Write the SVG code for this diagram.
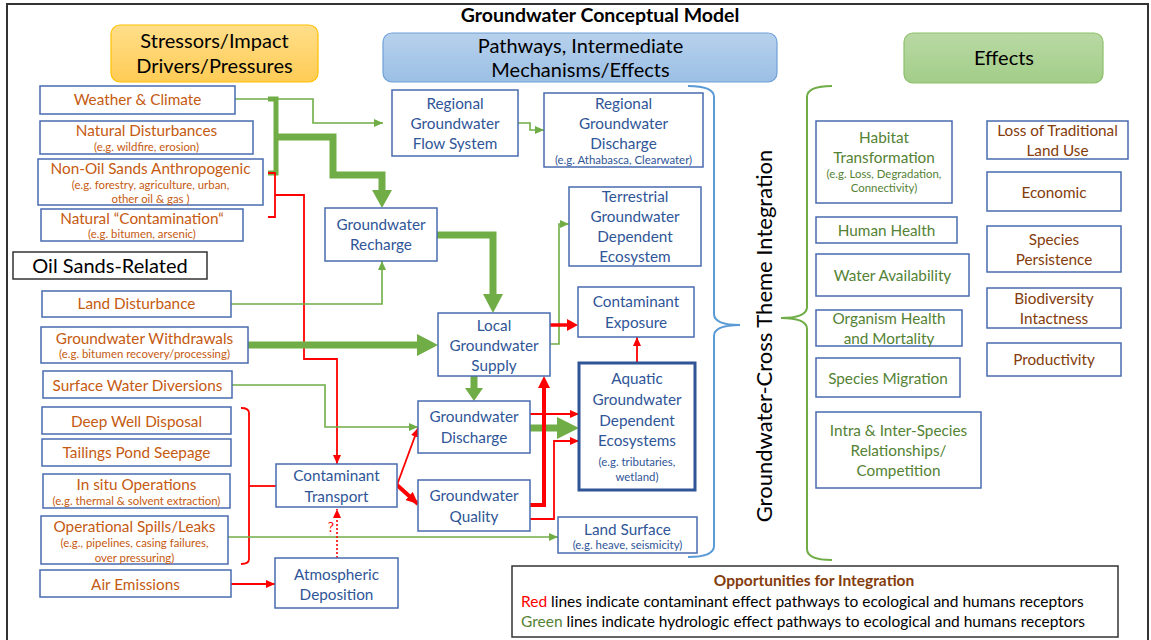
<svg xmlns="http://www.w3.org/2000/svg" width="1151" height="640" viewBox="0 0 1151 640">
<defs>
<style>
text{font-family:Lato,"Liberation Sans",sans-serif;text-anchor:middle}
.box{fill:#fff;stroke:#4A6BB0;stroke-width:1.5}
.st{fill:#C55A11;font-size:15.3px}
.sts{fill:#C55A11;font-size:11.4px}
.pt{fill:#2F5597;font-size:15.3px}
.pts{fill:#2F5597;font-size:11.4px}
.eg{fill:#548235;font-size:15.3px}
.egs{fill:#548235;font-size:11.4px}
.eb{fill:#843C0C;font-size:15.3px}
.hd{fill:#000;font-size:20px}
.g{stroke:#70AD47;fill:none;stroke-width:1.6}
.gT{stroke:#70AD47;fill:none;stroke-width:7}
.gh{fill:#70AD47}
.r{stroke:#FF0000;fill:none;stroke-width:1.8}
.rT{stroke:#FF0000;fill:none;stroke-width:4}
.rh{fill:#FF0000}
.leg{font-size:15.5px;text-anchor:start;fill:#000}
</style>
<linearGradient id="gO" x1="0" y1="0" x2="0" y2="1"><stop offset="0" stop-color="#FFDE8A"/><stop offset="1" stop-color="#FFCC55"/></linearGradient>
<linearGradient id="gB" x1="0" y1="0" x2="0" y2="1"><stop offset="0" stop-color="#B7D1EC"/><stop offset="1" stop-color="#9BBFE5"/></linearGradient>
<linearGradient id="gG" x1="0" y1="0" x2="0" y2="1"><stop offset="0" stop-color="#B9D9A4"/><stop offset="1" stop-color="#A2CD88"/></linearGradient>
<marker id="ag" markerUnits="userSpaceOnUse" markerWidth="9" markerHeight="8" refX="9" refY="4" orient="auto"><path d="M0,0 L9,4 L0,8 z" fill="#70AD47"/></marker>
<marker id="ar" markerUnits="userSpaceOnUse" markerWidth="9" markerHeight="8" refX="9" refY="4" orient="auto"><path d="M0,0 L9,4 L0,8 z" fill="#FF0000"/></marker>
<marker id="arT" markerUnits="userSpaceOnUse" markerWidth="12" markerHeight="11" refX="12" refY="5.5" orient="auto"><path d="M0,0 L12,5.5 L0,11 z" fill="#FF0000"/></marker>
</defs>
<rect x="0" y="0" width="1151" height="640" fill="#fff"/>
<rect x="7" y="4" width="1141" height="650" fill="none" stroke="#333" stroke-width="2"/>
<text x="600" y="22" style="font-weight:bold;font-size:19.5px" fill="#000">Groundwater Conceptual Model</text>

<g id="hdr-stressors"><rect x="111" y="25" width="207" height="57" rx="9" fill="url(#gO)" stroke="#FFC000" stroke-width="1.2"/><text class="hd" x="214.5" y="48">Stressors/Impact</text><text class="hd" x="214.5" y="73">Drivers/Pressures</text></g>
<g id="hdr-pathways"><rect x="383" y="33" width="394" height="49" rx="9" fill="url(#gB)" stroke="#6FA0D8" stroke-width="1.2"/><text class="hd" x="580.5" y="53">Pathways, Intermediate</text><text class="hd" x="580.5" y="77">Mechanisms/Effects</text></g>
<g id="hdr-effects"><rect x="904" y="33" width="199" height="50" rx="9" fill="url(#gG)" stroke="#8DC06B" stroke-width="1.2"/><text class="hd" x="1004" y="65">Effects</text></g>

<g id="connectors">
<path class="g" d="M235,99 H313 V123 H383" marker-end="url(#ag)"/>
<path d="M268,99 H276 V173 H268" fill="none" stroke="#70AD47" stroke-width="5"/>
<path class="gT" d="M276,137 H333 V175 H382 V192"/>
<polygon class="gh" points="372,190 392,190 382,208"/>
<path d="M268,173 H275 V217 H268" fill="none" stroke="#FF0000" stroke-width="1.8"/>
<path class="r" d="M275,195 H304 V359 H337 V464" marker-end="url(#ar)"/>
<path class="g" d="M518,123 H530 V130 H544" marker-end="url(#ag)"/>
<path class="g" d="M231,304 H382 V261" marker-end="url(#ag)"/>
<path class="gT" d="M437,235 H493 V296"/>
<polygon class="gh" points="483,294 503,294 493,313"/>
<path class="gT" d="M248,345 H420"/>
<polygon class="gh" points="417,334 417,356 438,345"/>
<path class="g" d="M550,344 H559 V224 H569" marker-end="url(#ag)"/>
<path d="M550,325 H570" fill="none" stroke="#FF0000" stroke-width="3.5"/>
<polygon class="rh" points="567,319 567,331 578,325"/>
<path class="r" d="M637,363 V337" marker-end="url(#ar)"/>
<path class="gT" d="M474,376 V390"/>
<polygon class="gh" points="465,388 483,388 474,401"/>
<path class="g" d="M232,385 H325 V427 H418" marker-end="url(#ag)"/>
<path class="r" d="M530,414 H579" marker-end="url(#ar)"/>
<path class="gT" d="M530,428 H560"/>
<polygon class="gh" points="557,417 557,439 579,428"/>
<path class="r" d="M530,519 H554 V441 H579" marker-end="url(#ar)"/>
<path class="rT" d="M530,505 H544 V387"/>
<polygon class="rh" points="538,388 550,388 544,376"/>
<path d="M241,408 Q249,408 249,413 V559 Q249,564 241,564" fill="none" stroke="#FF0000" stroke-width="1.8"/>
<path class="r" d="M249,486 H276"/>
<path class="r" d="M397,485 L418,428" marker-end="url(#ar)"/>
<path class="rT" d="M397,485 L418,504" marker-end="url(#arT)"/>
<path class="g" d="M228,537 H558" marker-end="url(#ag)"/>
<path class="r" d="M231,584 H275" marker-end="url(#ar)"/>
<path d="M337,558 V509" fill="none" stroke="#FF0000" stroke-width="1.6" stroke-dasharray="2,2" marker-end="url(#ar)"/>
<text x="331" y="532" style="font-size:14px" fill="#FF0000">?</text>
<path d="M688,86 Q714,86 714,97 V314 Q714,325 740,325 Q714,325 714,336 V546 Q714,557 688,557" fill="none" stroke="#5B9BD5" stroke-width="2"/>
<path d="M832,86 Q807,86 807,97 V307 Q807,318 781,318 Q807,318 807,329 V549 Q807,560 832,560" fill="none" stroke="#70AD47" stroke-width="2"/>
</g>

<g id="n-weather"><rect class="box" x="40" y="86" width="195" height="28"/><text class="st" x="137.5" y="105">Weather &amp; Climate</text></g>
<g id="n-natdist"><rect class="box" x="40" y="121" width="213" height="33"/><text class="st" x="146.5" y="136">Natural Disturbances</text><text class="sts" x="146.5" y="151">(e.g. wildfire, erosion)</text></g>
<g id="n-nonoil"><rect class="box" x="38" y="159" width="225" height="46"/><text class="st" x="150.5" y="174">Non-Oil Sands Anthropogenic</text><text class="sts" x="150.5" y="189">(e.g. forestry, agriculture, urban,</text><text class="sts" x="150.5" y="203">other oil &amp; gas )</text></g>
<g id="n-natcont"><rect class="box" x="41" y="209" width="202" height="32"/><text class="st" x="142" y="224">Natural “Contamination“</text><text class="sts" x="142" y="238">(e.g. bitumen, arsenic)</text></g>
<g id="n-oilsands"><rect x="13" y="252" width="194" height="27" fill="#fff" stroke="#333" stroke-width="1.5"/><text class="hd" x="110" y="273">Oil Sands-Related</text></g>
<g id="n-landdist"><rect class="box" x="42" y="291" width="189" height="26"/><text class="st" x="136.5" y="309">Land Disturbance</text></g>
<g id="n-withdraw"><rect class="box" x="41" y="327" width="207" height="36"/><text class="st" x="144.5" y="344">Groundwater Withdrawals</text><text class="sts" x="144.5" y="358">(e.g. bitumen recovery/processing)</text></g>
<g id="n-swd"><rect class="box" x="43" y="371" width="189" height="27"/><text class="st" x="137.5" y="391">Surface Water Diversions</text></g>
<g id="n-deepwell"><rect class="box" x="42" y="407" width="189" height="27"/><text class="st" x="136.5" y="427">Deep Well Disposal</text></g>
<g id="n-tailings"><rect class="box" x="42" y="439" width="189" height="27"/><text class="st" x="136.5" y="458">Tailings Pond Seepage</text></g>
<g id="n-insitu"><rect class="box" x="43" y="474" width="187" height="34"/><text class="st" x="136.5" y="490">In situ Operations</text><text class="sts" x="136.5" y="505">(e.g. thermal &amp; solvent extraction)</text></g>
<g id="n-spills"><rect class="box" x="41" y="516" width="187" height="48"/><text class="st" x="134.5" y="532">Operational Spills/Leaks</text><text class="sts" x="134.5" y="547">(e.g., pipelines, casing failures,</text><text class="sts" x="134.5" y="562">over pressuring)</text></g>
<g id="n-air"><rect class="box" x="40" y="570" width="191" height="27"/><text class="st" x="135.5" y="590">Air Emissions</text></g>

<g id="n-rgfs"><rect class="box" x="392" y="90" width="126" height="66"/><text class="pt" x="455" y="109">Regional</text><text class="pt" x="455" y="129">Groundwater</text><text class="pt" x="455" y="149">Flow System</text></g>
<g id="n-rgd"><rect class="box" x="544" y="93" width="159" height="74"/><text class="pt" x="623.5" y="109">Regional</text><text class="pt" x="623.5" y="129">Groundwater</text><text class="pt" x="623.5" y="149">Discharge</text><text class="pts" x="623.5" y="164">(e.g. Athabasca, Clearwater)</text></g>
<g id="n-recharge"><rect class="box" x="325" y="208" width="112" height="53"/><text class="pt" x="381" y="230">Groundwater</text><text class="pt" x="381" y="250">Recharge</text></g>
<g id="n-tgde"><rect class="box" x="569" y="187" width="132" height="79"/><text class="pt" x="635" y="202">Terrestrial</text><text class="pt" x="635" y="222">Groundwater</text><text class="pt" x="635" y="242">Dependent</text><text class="pt" x="635" y="262">Ecosystem</text></g>
<g id="n-exposure"><rect class="box" x="578" y="287" width="116" height="50"/><text class="pt" x="636" y="307">Contaminant</text><text class="pt" x="636" y="328">Exposure</text></g>
<g id="n-lgs"><rect class="box" x="438" y="313" width="112" height="63"/><text class="pt" x="494" y="331">Local</text><text class="pt" x="494" y="351">Groundwater</text><text class="pt" x="494" y="371">Supply</text></g>
<g id="n-aquatic"><rect x="579" y="363" width="116" height="127" fill="#fff" stroke="#2F5597" stroke-width="3"/><text class="pt" x="637" y="384">Aquatic</text><text class="pt" x="637" y="405">Groundwater</text><text class="pt" x="637" y="426">Dependent</text><text class="pt" x="637" y="446">Ecosystems</text><text class="pts" x="637" y="466">(e.g. tributaries,</text><text class="pts" x="637" y="481">wetland)</text></g>
<g id="n-gd"><rect class="box" x="418" y="401" width="112" height="52"/><text class="pt" x="474" y="422">Groundwater</text><text class="pt" x="474" y="443">Discharge</text></g>
<g id="n-gq"><rect class="box" x="418" y="480" width="112" height="51"/><text class="pt" x="474" y="501">Groundwater</text><text class="pt" x="474" y="522">Quality</text></g>
<g id="n-ct"><rect class="box" x="276" y="464" width="121" height="43"/><text class="pt" x="336.5" y="481">Contaminant</text><text class="pt" x="336.5" y="502">Transport</text></g>
<g id="n-ad"><rect class="box" x="275" y="558" width="123" height="50"/><text class="pt" x="336.5" y="580">Atmospheric</text><text class="pt" x="336.5" y="600">Deposition</text></g>
<g id="n-land"><rect class="box" x="558" y="517" width="139" height="36"/><text class="pt" x="627.5" y="535">Land Surface</text><text class="pts" x="627.5" y="549">(e.g. heave, seismicity)</text></g>

<text transform="translate(772,336) rotate(-90)" x="0" y="0" style="font-size:22px" fill="#000">Groundwater-Cross Theme Integration</text>

<g id="n-habitat"><rect class="box" x="816" y="121" width="136" height="82"/><text class="eg" x="884" y="143">Habitat</text><text class="eg" x="884" y="163">Transformation</text><text class="egs" x="884" y="178">(e.g. Loss, Degradation,</text><text class="egs" x="884" y="192">Connectivity)</text></g>
<g id="n-human"><rect class="box" x="816" y="217" width="141" height="26"/><text class="eg" x="886.5" y="236">Human Health</text></g>
<g id="n-water"><rect class="box" x="816" y="254" width="153" height="42"/><text class="eg" x="892.5" y="281">Water Availability</text></g>
<g id="n-organism"><rect class="box" x="816" y="310" width="146" height="36"/><text class="eg" x="889" y="324">Organism Health</text><text class="eg" x="889" y="344">and Mortality</text></g>
<g id="n-migration"><rect class="box" x="816" y="358" width="144" height="39"/><text class="eg" x="888" y="384">Species Migration</text></g>
<g id="n-intra"><rect class="box" x="816" y="412" width="165" height="76"/><text class="eg" x="898.5" y="436">Intra &amp; Inter-Species</text><text class="eg" x="898.5" y="456">Relationships/</text><text class="eg" x="898.5" y="476">Competition</text></g>
<g id="n-loss"><rect class="box" x="987" y="121" width="141" height="38"/><text class="eb" x="1057.5" y="136">Loss of Traditional</text><text class="eb" x="1057.5" y="156">Land Use</text></g>
<g id="n-econ"><rect class="box" x="987" y="172" width="134" height="39"/><text class="eb" x="1054" y="198">Economic</text></g>
<g id="n-persist"><rect class="box" x="987" y="226" width="134" height="46"/><text class="eb" x="1054" y="245">Species</text><text class="eb" x="1054" y="265">Persistence</text></g>
<g id="n-biodiv"><rect class="box" x="987" y="288" width="134" height="40"/><text class="eb" x="1054" y="304">Biodiversity</text><text class="eb" x="1054" y="324">Intactness</text></g>
<g id="n-prod"><rect class="box" x="987" y="343" width="134" height="33"/><text class="eb" x="1054" y="365">Productivity</text></g>

<g id="legend"><rect x="512" y="566" width="606" height="71" fill="#fff" stroke="#333" stroke-width="1.5"/>
<text x="814" y="586" style="font-size:15.5px;font-weight:bold" fill="#843C0C">Opportunities for Integration</text>
<text class="leg" x="521" y="607"><tspan fill="#FF0000">Red</tspan> lines indicate contaminant effect pathways to ecological and humans receptors</text>
<text class="leg" x="521" y="627"><tspan fill="#548235">Green</tspan> lines indicate hydrologic effect pathways to ecological and humans receptors</text>
</g>
</svg>
